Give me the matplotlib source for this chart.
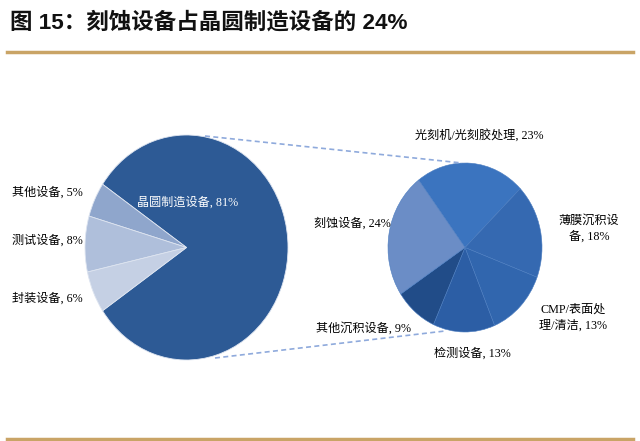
import matplotlib.pyplot as plt
from matplotlib.lines import Line2D

# left pie: all semiconductor equipment
left_labels = ['晶圆制造设备, 81%', '其他设备, 5%', '测试设备, 8%', '封装设备, 6%']
left_values = [81, 5, 8, 6]
left_colors = ['#2D5A95', '#8FA6CC', '#AFBFDB', '#C5D0E4']

# right pie: wafer fab equipment breakdown
right_labels = ['光刻机/光刻胶处理, 23%', '薄膜沉积设\n备, 18%', 'CMP/表面处\n理/清洁, 13%',
                '检测设备, 13%', '其他沉积设备, 9%', '刻蚀设备, 24%']
right_values = [23, 18, 13, 13, 9, 24]
right_colors = ['#3B74BF', '#3569B1', '#3166AE', '#2C5EA5', '#214C88', '#6B8DC6']

title = '图 15：刻蚀设备占晶圆制造设备的 24%'

W, H = 640, 441
fig = plt.figure(figsize=(W / 100, H / 100), dpi=100)
fig.patch.set_facecolor('white')

label_font = ['Liberation Serif', 'Noto Sans CJK SC']


def px_axes(x0, y0, x1, y1):
    return fig.add_axes([x0 / W, 1 - y1 / H, (x1 - x0) / W, (y1 - y0) / H])


# overlay for lines and text, in pixel coordinates
ov = fig.add_axes([0, 0, 1, 1])
ov.set_xlim(0, W)
ov.set_ylim(H, 0)
ov.axis('off')

ov.add_line(Line2D([7, 633], [52, 52], color='#C9A466', lw=2.5))
ov.add_line(Line2D([7, 633], [439, 439], color='#C9A466', lw=2.5))
ov.text(10, 23, title, fontsize=16.2, fontweight='bold', va='center', ha='left',
        family=['Liberation Sans', 'Noto Sans CJK SC'], color='#111111')

# dashed connectors between the pies
ov.add_line(Line2D([205, 462], [136, 163], color='#8FAADC', lw=1.2, ls=(0, (3, 2))))
ov.add_line(Line2D([215, 445], [358, 331], color='#8FAADC', lw=1.2, ls=(0, (3, 2))))

# left pie
axl = px_axes(85, 135, 288, 360)
axl.pie(left_values, colors=left_colors, startangle=-145.8, counterclock=True,
        radius=1, wedgeprops=dict(edgecolor='#DDE4F0', linewidth=0.6))
axl.set_aspect('auto')
axl.set_xlim(-1, 1)
axl.set_ylim(-1, 1)

# right pie
axr = px_axes(388, 163, 542, 332)
axr.pie(right_values, colors=right_colors, startangle=127, counterclock=False,
        radius=1, wedgeprops=dict(edgecolor='#4A7CC0', linewidth=0.4))
axr.set_aspect('auto')
axr.set_xlim(-1, 1)
axr.set_ylim(-1, 1)
axr.set_zorder(0)
axl.set_zorder(0)
ov.set_zorder(1)

# labels
fs = 8.7
ov.text(137, 202, left_labels[0], fontsize=fs, color='white', va='center', ha='left', family=label_font)
ov.text(12, 192, left_labels[1], fontsize=fs, va='center', ha='left', family=label_font)
ov.text(12, 240, left_labels[2], fontsize=fs, va='center', ha='left', family=label_font)
ov.text(12, 298, left_labels[3], fontsize=fs, va='center', ha='left', family=label_font)

ov.text(479, 135, right_labels[0], fontsize=fs, va='center', ha='center', family=label_font)
ov.text(589, 229, right_labels[1], fontsize=fs, va='center', ha='center', family=label_font,
        linespacing=1.4)
ov.text(573, 318, right_labels[2], fontsize=fs, va='center', ha='center', family=label_font,
        linespacing=1.4)
ov.text(472, 353, right_labels[3], fontsize=fs, va='center', ha='center', family=label_font)
ov.text(363, 328, right_labels[4], fontsize=fs, va='center', ha='center', family=label_font)
ov.text(352, 223, right_labels[5], fontsize=fs, va='center', ha='center', family=label_font)

fig.savefig('out.png', dpi=100)
